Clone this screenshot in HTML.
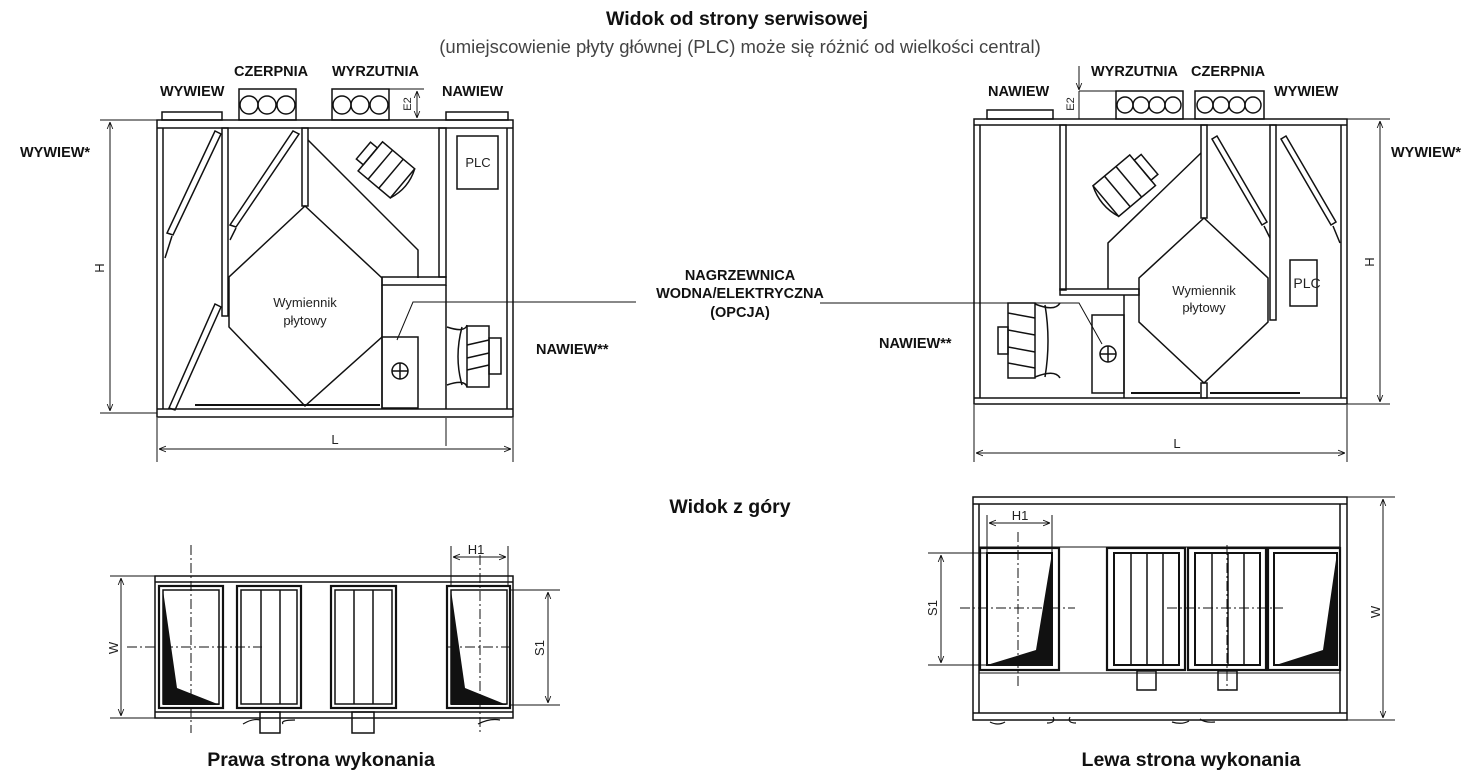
<!DOCTYPE html>
<html><head><meta charset="utf-8"><style>
html,body{margin:0;padding:0;background:#fff;}
svg{display:block;}
text{font-family:"Liberation Sans",Arial,sans-serif;}
.b{font-weight:bold;font-size:14.5px;fill:#111;}
</style></head><body>
<svg width="1471" height="781" viewBox="0 0 1471 781" xmlns="http://www.w3.org/2000/svg">
<defs>
<marker id="a" viewBox="0 0 10 10" refX="10" refY="5" markerWidth="7" markerHeight="7" orient="auto-start-reverse"><path d="M0,1 L10,5 L0,9" fill="none" stroke="#111" stroke-width="1.2"/></marker>
</defs>
<text x="737" y="25" text-anchor="middle" font-size="19.5" font-weight="bold" fill="#111">Widok od strony serwisowej</text>
<text x="740" y="53" text-anchor="middle" font-size="18.5" fill="#444">(umiejscowienie płyty głównej (PLC) może się różnić od wielkości central)</text>
<text x="730" y="513" text-anchor="middle" font-size="19.5" font-weight="bold" fill="#111">Widok z góry</text>
<text x="321" y="766" text-anchor="middle" font-size="19.5" font-weight="bold" fill="#111">Prawa strona wykonania</text>
<text x="1191" y="766" text-anchor="middle" font-size="19.5" font-weight="bold" fill="#111">Lewa strona wykonania</text>

<g fill="none" stroke="#111" stroke-width="1.5">
<!-- LEFT FRONT VIEW -->
<rect x="157" y="120" width="356" height="297"/>
<line x1="157" y1="128" x2="513" y2="128"/>
<line x1="157" y1="409" x2="513" y2="409"/>
<line x1="163" y1="128" x2="163" y2="409"/>
<line x1="507" y1="128" x2="507" y2="409"/>
<rect x="162" y="112" width="60" height="8"/>
<rect x="239" y="89" width="57" height="31"/>
<circle cx="249" cy="105" r="9"/><circle cx="267" cy="105" r="9"/><circle cx="286" cy="105" r="9"/>
<rect x="332" y="89" width="57" height="31"/>
<circle cx="342" cy="105" r="9"/><circle cx="360" cy="105" r="9"/><circle cx="379" cy="105" r="9"/>
<rect x="446" y="112" width="62" height="8"/>
<line x1="389" y1="89" x2="424" y2="89" stroke-width="1"/>
<line x1="417" y1="91" x2="417" y2="118" stroke-width="1" marker-start="url(#a)" marker-end="url(#a)"/>
<rect x="222" y="128" width="6" height="188"/>
<rect x="302" y="128" width="6" height="78"/>
<polygon points="305,206 382,278 382,337 305,406 229,327 229,277"/>
<polyline points="308,140 418,250 418,278"/>
<rect x="439" y="128" width="7" height="149"/>
<rect x="382" y="277" width="64" height="8"/>
<line x1="382" y1="285" x2="382" y2="409"/>
<line x1="446" y1="285" x2="446" y2="409"/>
<rect x="382" y="337" width="36" height="71"/>
<circle cx="400" cy="371" r="8"/><line x1="392" y1="371" x2="408" y2="371"/><line x1="400" y1="363" x2="400" y2="379"/>
<rect x="457" y="136" width="41" height="53"/>
<polygon points="167,233 173,235 221,134 215,131"/>
<polygon points="169,408 175,410 221,307 215,304"/>
<polygon points="230,225 236,227 299,134 293,131"/>
<line x1="165" y1="258" x2="172" y2="236"/>
<line x1="230" y1="240" x2="236" y2="228"/>
<line x1="195" y1="405" x2="380" y2="405" stroke-width="2"/>
<g transform="rotate(40 385 170)">
<rect x="365" y="150" width="42" height="38"/>
<line x1="378" y1="150" x2="378" y2="188"/><line x1="392" y1="150" x2="392" y2="188"/>
<rect x="356" y="158" width="9" height="22"/>
<path d="M407,150 q8,19 0,38"/>
</g>
<rect x="467" y="326" width="22" height="61"/>
<rect x="489" y="338" width="12" height="36"/>
<line x1="467" y1="345" x2="489" y2="340"/><line x1="467" y1="358" x2="489" y2="353"/><line x1="467" y1="370" x2="489" y2="365"/>
<path d="M447,327 q18,6 20,-2 M447,385 q18,-6 20,2"/>
<path d="M462,327 q-8,30 0,58"/>
<line x1="157" y1="418" x2="157" y2="462" stroke-width="1"/>
<line x1="513" y1="418" x2="513" y2="462" stroke-width="1"/>
<line x1="446" y1="418" x2="446" y2="446" stroke-width="1"/>
<line x1="159" y1="449" x2="511" y2="449" stroke-width="1" marker-start="url(#a)" marker-end="url(#a)"/>
<line x1="100" y1="120" x2="157" y2="120" stroke-width="1"/>
<line x1="100" y1="413" x2="157" y2="413" stroke-width="1"/>
<line x1="110" y1="122" x2="110" y2="411" stroke-width="1" marker-start="url(#a)" marker-end="url(#a)"/>
<polyline points="636,302 413,302 397,340" stroke-width="1"/>
<polyline points="820,303 1079,303 1102,344" stroke-width="1"/>

<!-- RIGHT FRONT VIEW -->
<rect x="974" y="119" width="373" height="285"/>
<line x1="974" y1="125" x2="1347" y2="125"/>
<line x1="974" y1="398" x2="1347" y2="398"/>
<line x1="980" y1="125" x2="980" y2="398"/>
<line x1="1341" y1="125" x2="1341" y2="398"/>
<rect x="987" y="110" width="66" height="9"/>
<rect x="1116" y="91" width="67" height="28"/>
<circle cx="1125" cy="105" r="8"/><circle cx="1141" cy="105" r="8"/><circle cx="1157" cy="105" r="8"/><circle cx="1173" cy="105" r="8"/>
<rect x="1195" y="91" width="69" height="28"/>
<circle cx="1205" cy="105" r="8"/><circle cx="1221" cy="105" r="8"/><circle cx="1237" cy="105" r="8"/><circle cx="1253" cy="105" r="8"/>
<line x1="1079" y1="91" x2="1116" y2="91" stroke-width="1"/>
<line x1="1079" y1="66" x2="1079" y2="90" stroke-width="1" marker-end="url(#a)"/>
<line x1="1079" y1="91" x2="1079" y2="119" stroke-width="1"/>
<rect x="1060" y="125" width="6" height="165"/>
<rect x="1060" y="289" width="79" height="6"/>
<rect x="1201" y="125" width="6" height="93"/>
<rect x="1270" y="125" width="6" height="195"/>
<polygon points="1204,218 1268,278 1268,322 1204,383 1139,322 1139,278"/>
<rect x="1201" y="383" width="6" height="15"/>
<polyline points="1201,153 1108,243 1108,289"/>
<line x1="1124" y1="295" x2="1124" y2="398"/>
<rect x="1092" y="315" width="32" height="78"/>
<circle cx="1108" cy="354" r="8"/><line x1="1100" y1="354" x2="1116" y2="354"/><line x1="1108" y1="346" x2="1108" y2="362"/>
<rect x="1290" y="260" width="27" height="46"/>
<polygon points="1212,139 1217,136 1267,222 1262,225"/>
<polygon points="1281,139 1286,136 1336,222 1331,225"/>
<line x1="1264" y1="226" x2="1270" y2="238"/><line x1="1333" y1="226" x2="1340" y2="243"/>
<line x1="1131" y1="393" x2="1200" y2="393" stroke-width="2"/>
<line x1="1210" y1="393" x2="1300" y2="393" stroke-width="2"/>
<g transform="rotate(-40 1125 185)">
<rect x="1100" y="165" width="48" height="40"/>
<line x1="1115" y1="165" x2="1115" y2="205"/><line x1="1130" y1="165" x2="1130" y2="205"/>
<rect x="1148" y="172" width="9" height="26"/>
<path d="M1100,165 q-8,20 0,40"/>
</g>
<rect x="1008" y="303" width="27" height="75"/>
<rect x="998" y="327" width="10" height="27"/>
<line x1="1008" y1="313" x2="1035" y2="318"/><line x1="1008" y1="330" x2="1035" y2="335"/><line x1="1008" y1="347" x2="1035" y2="352"/><line x1="1008" y1="363" x2="1035" y2="368"/>
<path d="M1035,304 q20,8 25,-1 M1035,377 q20,-8 25,1"/>
<path d="M1045,305 q6,36 0,72"/>
<line x1="1000" y1="303" x2="975" y2="303" stroke-width="1"/>
<line x1="974" y1="405" x2="974" y2="462" stroke-width="1"/>
<line x1="1347" y1="405" x2="1347" y2="462" stroke-width="1"/>
<line x1="976" y1="453" x2="1345" y2="453" stroke-width="1" marker-start="url(#a)" marker-end="url(#a)"/>
<line x1="1347" y1="119" x2="1390" y2="119" stroke-width="1"/>
<line x1="1347" y1="404" x2="1390" y2="404" stroke-width="1"/>
<line x1="1380" y1="121" x2="1380" y2="402" stroke-width="1" marker-start="url(#a)" marker-end="url(#a)"/>

<!-- TOP VIEW LEFT -->
<rect x="155" y="576" width="358" height="142"/>
<line x1="155" y1="582" x2="513" y2="582"/>
<line x1="155" y1="712" x2="513" y2="712"/>
<rect x="159" y="586" width="64" height="122" stroke-width="2.2"/>
<rect x="163" y="590" width="56" height="114"/>
<rect x="237" y="586" width="64" height="122" stroke-width="2.2"/>
<rect x="241" y="590" width="56" height="114"/>
<line x1="261" y1="590" x2="261" y2="704"/><line x1="280" y1="590" x2="280" y2="704"/>
<rect x="331" y="586" width="65" height="122" stroke-width="2.2"/>
<rect x="335" y="590" width="57" height="114"/>
<line x1="354" y1="590" x2="354" y2="704"/><line x1="373" y1="590" x2="373" y2="704"/>
<rect x="447" y="586" width="63" height="122" stroke-width="2.2"/>
<rect x="451" y="590" width="56" height="114"/>
<rect x="260" y="712" width="20" height="21"/>
<rect x="352" y="712" width="22" height="21"/>
<path d="M243,724 q10,-6 17,-4 M283,724 q-3,-4 12,-4 M478,724 q12,-6 22,-4" stroke-width="1.2"/>
<g stroke-width="1" stroke-dasharray="10,3,2,3">
<line x1="127" y1="647" x2="262" y2="647"/><line x1="447" y1="647" x2="510" y2="647"/>
<line x1="191" y1="545" x2="191" y2="733"/><line x1="480" y1="555" x2="480" y2="733"/>
</g>
<line x1="110" y1="576" x2="155" y2="576" stroke-width="1"/>
<line x1="110" y1="718" x2="155" y2="718" stroke-width="1"/>
<line x1="121" y1="578" x2="121" y2="716" stroke-width="1" marker-start="url(#a)" marker-end="url(#a)"/>
<line x1="510" y1="590" x2="560" y2="590" stroke-width="1"/>
<line x1="510" y1="705" x2="560" y2="705" stroke-width="1"/>
<line x1="548" y1="592" x2="548" y2="703" stroke-width="1" marker-start="url(#a)" marker-end="url(#a)"/>
<line x1="451" y1="546" x2="451" y2="586" stroke-width="1"/>
<line x1="508" y1="546" x2="508" y2="586" stroke-width="1"/>
<line x1="453" y1="557" x2="506" y2="557" stroke-width="1" marker-start="url(#a)" marker-end="url(#a)"/>

<!-- TOP VIEW RIGHT -->
<rect x="973" y="497" width="374" height="223"/>
<line x1="973" y1="504" x2="1347" y2="504"/>
<line x1="973" y1="713" x2="1347" y2="713"/>
<line x1="979" y1="504" x2="979" y2="713"/>
<line x1="1340" y1="504" x2="1340" y2="713"/>
<line x1="979" y1="547" x2="1340" y2="547" stroke-width="1"/>
<line x1="979" y1="673" x2="1340" y2="673" stroke-width="1"/>
<rect x="980" y="548" width="79" height="122" stroke-width="2.2"/>
<rect x="987" y="553" width="65" height="112" stroke-width="2"/>
<rect x="1107" y="548" width="78" height="122" stroke-width="2.2"/>
<rect x="1114" y="553" width="65" height="112" stroke-width="2"/>
<line x1="1131" y1="553" x2="1131" y2="665"/><line x1="1147" y1="553" x2="1147" y2="665"/><line x1="1163" y1="553" x2="1163" y2="665"/>
<rect x="1188" y="548" width="78" height="122" stroke-width="2.2"/>
<rect x="1195" y="553" width="65" height="112" stroke-width="2"/>
<line x1="1212" y1="553" x2="1212" y2="665"/><line x1="1228" y1="553" x2="1228" y2="665"/><line x1="1244" y1="553" x2="1244" y2="665"/>
<rect x="1268" y="548" width="72" height="122" stroke-width="2.2"/>
<rect x="1274" y="553" width="63" height="112" stroke-width="2"/>
<rect x="1137" y="671" width="19" height="19"/>
<rect x="1218" y="671" width="19" height="19"/>
<path d="M990,722 q8,4 15,0 M1053,717 q3,6 -6,6 M1070,717 q-3,6 6,6 M1172,722 q10,3 17,-1 M1200,719 q5,4 15,3" stroke-width="1.2"/>
<g stroke-width="1" stroke-dasharray="10,3,2,3">
<line x1="960" y1="608" x2="1075" y2="608"/><line x1="1167" y1="608" x2="1283" y2="608"/>
<line x1="1018" y1="532" x2="1018" y2="686"/><line x1="1227" y1="545" x2="1227" y2="690"/>
</g>
<line x1="928" y1="553" x2="987" y2="553" stroke-width="1"/>
<line x1="928" y1="665" x2="987" y2="665" stroke-width="1"/>
<line x1="941" y1="555" x2="941" y2="663" stroke-width="1" marker-start="url(#a)" marker-end="url(#a)"/>
<line x1="1347" y1="497" x2="1395" y2="497" stroke-width="1"/>
<line x1="1347" y1="720" x2="1395" y2="720" stroke-width="1"/>
<line x1="1383" y1="499" x2="1383" y2="718" stroke-width="1" marker-start="url(#a)" marker-end="url(#a)"/>
<line x1="987" y1="515" x2="987" y2="553" stroke-width="1"/>
<line x1="1052" y1="515" x2="1052" y2="553" stroke-width="1"/>
<line x1="989" y1="523" x2="1050" y2="523" stroke-width="1" marker-start="url(#a)" marker-end="url(#a)"/>
</g>
<g fill="#111">
<polygon points="163,590 177,688 220,705 163,705"/>
<polygon points="451,590 465,688 507,705 451,705"/>
<polygon points="1052,553 1036,650 987,665 1052,665"/>
<polygon points="1337,553 1323,650 1276,665 1337,665"/>
</g>

<text class="b" x="160" y="96">WYWIEW</text>
<text class="b" x="234" y="76">CZERPNIA</text>
<text class="b" x="332" y="76">WYRZUTNIA</text>
<text class="b" x="442" y="96">NAWIEW</text>
<text class="b" x="988" y="96">NAWIEW</text>
<text class="b" x="1091" y="76">WYRZUTNIA</text>
<text class="b" x="1191" y="76">CZERPNIA</text>
<text class="b" x="1274" y="96">WYWIEW</text>
<text class="b" x="20" y="157">WYWIEW*</text>
<text class="b" x="536" y="354">NAWIEW**</text>
<text class="b" x="879" y="348">NAWIEW**</text>
<text class="b" x="1391" y="157">WYWIEW*</text>
<text class="b" x="740" y="280" text-anchor="middle">NAGRZEWNICA</text>
<text class="b" x="740" y="298" text-anchor="middle">WODNA/ELEKTRYCZNA</text>
<text class="b" x="740" y="317" text-anchor="middle">(OPCJA)</text>
<g font-size="13" fill="#222">
<text x="305" y="307" text-anchor="middle">Wymiennik</text>
<text x="305" y="325" text-anchor="middle">płytowy</text>
<text x="1204" y="295" text-anchor="middle">Wymiennik</text>
<text x="1204" y="312" text-anchor="middle">płytowy</text>
<text x="478" y="167" text-anchor="middle">PLC</text>
<text x="1307" y="288" text-anchor="middle" font-size="14">PLC</text>
<text x="335" y="444" text-anchor="middle">L</text>
<text x="1177" y="448" text-anchor="middle">L</text>
<text x="476" y="554" text-anchor="middle">H1</text>
<text x="1020" y="520" text-anchor="middle">H1</text>
<text transform="translate(104,268) rotate(-90)" text-anchor="middle">H</text>
<text transform="translate(1374,262) rotate(-90)" text-anchor="middle">H</text>
<text transform="translate(411,104) rotate(-90)" text-anchor="middle" font-size="11">E2</text>
<text transform="translate(1074,104) rotate(-90)" text-anchor="middle" font-size="11">E2</text>
<text transform="translate(118,648) rotate(-90)" text-anchor="middle">W</text>
<text transform="translate(544,648) rotate(-90)" text-anchor="middle">S1</text>
<text transform="translate(937,608) rotate(-90)" text-anchor="middle">S1</text>
<text transform="translate(1380,612) rotate(-90)" text-anchor="middle">W</text>
</g>
</svg>
</body></html>
